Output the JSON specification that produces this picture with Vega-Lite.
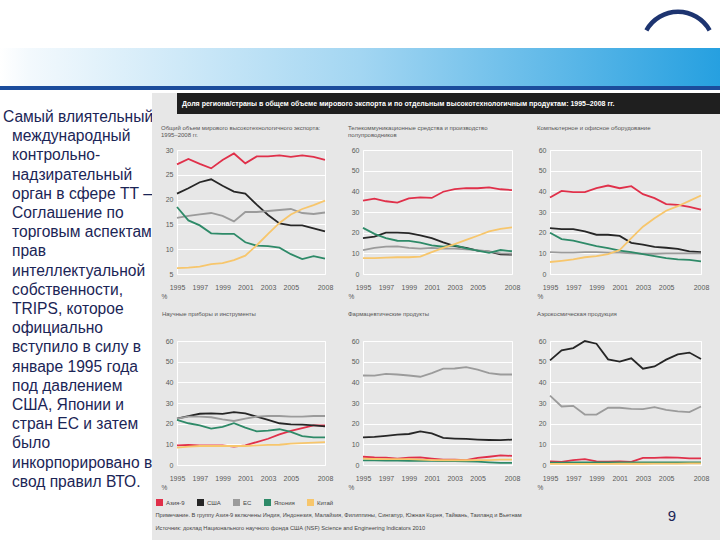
{
"$schema": "https://vega.github.io/schema/vega-lite/v6.json",
"padding": 0,
"background": "#e7e7e7",
"spacing": 0,
"title": {"text": "9", "orient": "bottom", "anchor": "end", "frame": "bounds", "offset": -31, "dx": -65, "fontSize": 15, "font": "Liberation Sans", "color": "#1b2556", "fontWeight": "normal"},
"datasets": {
"ex": [
{"p":"a","r":"Азия-9","y":1995,"v":27.1},{"p":"a","r":"Азия-9","y":1996,"v":28.2},{"p":"a","r":"Азия-9","y":1997,"v":27.2},{"p":"a","r":"Азия-9","y":1998,"v":26.3},{"p":"a","r":"Азия-9","y":1999,"v":28.0},{"p":"a","r":"Азия-9","y":2000,"v":29.3},{"p":"a","r":"Азия-9","y":2001,"v":27.3},{"p":"a","r":"Азия-9","y":2002,"v":28.7},{"p":"a","r":"Азия-9","y":2003,"v":28.7},{"p":"a","r":"Азия-9","y":2004,"v":28.9},{"p":"a","r":"Азия-9","y":2005,"v":28.6},{"p":"a","r":"Азия-9","y":2006,"v":28.9},{"p":"a","r":"Азия-9","y":2007,"v":28.6},{"p":"a","r":"Азия-9","y":2008,"v":28.0},
{"p":"a","r":"США","y":1995,"v":21.2},{"p":"a","r":"США","y":1996,"v":22.3},{"p":"a","r":"США","y":1997,"v":23.5},{"p":"a","r":"США","y":1998,"v":24.1},{"p":"a","r":"США","y":1999,"v":22.8},{"p":"a","r":"США","y":2000,"v":21.6},{"p":"a","r":"США","y":2001,"v":21.2},{"p":"a","r":"США","y":2002,"v":19.0},{"p":"a","r":"США","y":2003,"v":16.9},{"p":"a","r":"США","y":2004,"v":15.2},{"p":"a","r":"США","y":2005,"v":14.8},{"p":"a","r":"США","y":2006,"v":14.8},{"p":"a","r":"США","y":2007,"v":14.2},{"p":"a","r":"США","y":2008,"v":13.6},
{"p":"a","r":"ЕС","y":1995,"v":16.3},{"p":"a","r":"ЕС","y":1996,"v":16.7},{"p":"a","r":"ЕС","y":1997,"v":17.0},{"p":"a","r":"ЕС","y":1998,"v":17.3},{"p":"a","r":"ЕС","y":1999,"v":16.7},{"p":"a","r":"ЕС","y":2000,"v":15.6},{"p":"a","r":"ЕС","y":2001,"v":17.5},{"p":"a","r":"ЕС","y":2002,"v":17.5},{"p":"a","r":"ЕС","y":2003,"v":17.7},{"p":"a","r":"ЕС","y":2004,"v":17.9},{"p":"a","r":"ЕС","y":2005,"v":18.1},{"p":"a","r":"ЕС","y":2006,"v":17.3},{"p":"a","r":"ЕС","y":2007,"v":17.1},{"p":"a","r":"ЕС","y":2008,"v":17.4},
{"p":"a","r":"Япония","y":1995,"v":18.5},{"p":"a","r":"Япония","y":1996,"v":15.8},{"p":"a","r":"Япония","y":1997,"v":14.8},{"p":"a","r":"Япония","y":1998,"v":13.2},{"p":"a","r":"Япония","y":1999,"v":13.1},{"p":"a","r":"Япония","y":2000,"v":13.1},{"p":"a","r":"Япония","y":2001,"v":11.4},{"p":"a","r":"Япония","y":2002,"v":10.7},{"p":"a","r":"Япония","y":2003,"v":10.6},{"p":"a","r":"Япония","y":2004,"v":10.3},{"p":"a","r":"Япония","y":2005,"v":9.0},{"p":"a","r":"Япония","y":2006,"v":8.0},{"p":"a","r":"Япония","y":2007,"v":8.6},{"p":"a","r":"Япония","y":2008,"v":8.1},
{"p":"a","r":"Китай","y":1995,"v":6.2},{"p":"a","r":"Китай","y":1996,"v":6.3},{"p":"a","r":"Китай","y":1997,"v":6.5},{"p":"a","r":"Китай","y":1998,"v":7.0},{"p":"a","r":"Китай","y":1999,"v":7.2},{"p":"a","r":"Китай","y":2000,"v":7.8},{"p":"a","r":"Китай","y":2001,"v":8.7},{"p":"a","r":"Китай","y":2002,"v":10.8},{"p":"a","r":"Китай","y":2003,"v":13.1},{"p":"a","r":"Китай","y":2004,"v":15.3},{"p":"a","r":"Китай","y":2005,"v":17.0},{"p":"a","r":"Китай","y":2006,"v":18.1},{"p":"a","r":"Китай","y":2007,"v":18.9},{"p":"a","r":"Китай","y":2008,"v":19.8},
{"p":"b","r":"Азия-9","y":1995,"v":35.5},{"p":"b","r":"Азия-9","y":1996,"v":36.5},{"p":"b","r":"Азия-9","y":1997,"v":35.2},{"p":"b","r":"Азия-9","y":1998,"v":34.5},{"p":"b","r":"Азия-9","y":1999,"v":36.6},{"p":"b","r":"Азия-9","y":2000,"v":37.1},{"p":"b","r":"Азия-9","y":2001,"v":36.8},{"p":"b","r":"Азия-9","y":2002,"v":39.8},{"p":"b","r":"Азия-9","y":2003,"v":41.1},{"p":"b","r":"Азия-9","y":2004,"v":41.6},{"p":"b","r":"Азия-9","y":2005,"v":41.5},{"p":"b","r":"Азия-9","y":2006,"v":41.9},{"p":"b","r":"Азия-9","y":2007,"v":41.0},{"p":"b","r":"Азия-9","y":2008,"v":40.6},
{"p":"b","r":"США","y":1995,"v":17.4},{"p":"b","r":"США","y":1996,"v":18.1},{"p":"b","r":"США","y":1997,"v":20.0},{"p":"b","r":"США","y":1998,"v":20.0},{"p":"b","r":"США","y":1999,"v":19.8},{"p":"b","r":"США","y":2000,"v":18.7},{"p":"b","r":"США","y":2001,"v":17.4},{"p":"b","r":"США","y":2002,"v":15.3},{"p":"b","r":"США","y":2003,"v":13.5},{"p":"b","r":"США","y":2004,"v":12.6},{"p":"b","r":"США","y":2005,"v":11.3},{"p":"b","r":"США","y":2006,"v":10.8},{"p":"b","r":"США","y":2007,"v":9.5},{"p":"b","r":"США","y":2008,"v":9.4},
{"p":"b","r":"ЕС","y":1995,"v":11.6},{"p":"b","r":"ЕС","y":1996,"v":12.6},{"p":"b","r":"ЕС","y":1997,"v":13.2},{"p":"b","r":"ЕС","y":1998,"v":13.4},{"p":"b","r":"ЕС","y":1999,"v":12.6},{"p":"b","r":"ЕС","y":2000,"v":12.3},{"p":"b","r":"ЕС","y":2001,"v":12.6},{"p":"b","r":"ЕС","y":2002,"v":12.3},{"p":"b","r":"ЕС","y":2003,"v":12.3},{"p":"b","r":"ЕС","y":2004,"v":11.9},{"p":"b","r":"ЕС","y":2005,"v":11.6},{"p":"b","r":"ЕС","y":2006,"v":11.0},{"p":"b","r":"ЕС","y":2007,"v":10.0},{"p":"b","r":"ЕС","y":2008,"v":9.8},
{"p":"b","r":"Япония","y":1995,"v":22.3},{"p":"b","r":"Япония","y":1996,"v":19.4},{"p":"b","r":"Япония","y":1997,"v":17.4},{"p":"b","r":"Япония","y":1998,"v":16.1},{"p":"b","r":"Япония","y":1999,"v":16.0},{"p":"b","r":"Япония","y":2000,"v":15.2},{"p":"b","r":"Япония","y":2001,"v":13.9},{"p":"b","r":"Япония","y":2002,"v":13.2},{"p":"b","r":"Япония","y":2003,"v":13.9},{"p":"b","r":"Япония","y":2004,"v":12.4},{"p":"b","r":"Япония","y":2005,"v":11.3},{"p":"b","r":"Япония","y":2006,"v":10.2},{"p":"b","r":"Япония","y":2007,"v":11.6},{"p":"b","r":"Япония","y":2008,"v":11.0},
{"p":"b","r":"Китай","y":1995,"v":7.7},{"p":"b","r":"Китай","y":1996,"v":7.7},{"p":"b","r":"Китай","y":1997,"v":7.9},{"p":"b","r":"Китай","y":1998,"v":8.1},{"p":"b","r":"Китай","y":1999,"v":8.1},{"p":"b","r":"Китай","y":2000,"v":8.4},{"p":"b","r":"Китай","y":2001,"v":10.6},{"p":"b","r":"Китай","y":2002,"v":12.6},{"p":"b","r":"Китай","y":2003,"v":14.5},{"p":"b","r":"Китай","y":2004,"v":16.5},{"p":"b","r":"Китай","y":2005,"v":18.5},{"p":"b","r":"Китай","y":2006,"v":20.6},{"p":"b","r":"Китай","y":2007,"v":21.8},{"p":"b","r":"Китай","y":2008,"v":22.6},
{"p":"c","r":"Азия-9","y":1995,"v":37.0},{"p":"c","r":"Азия-9","y":1996,"v":40.2},{"p":"c","r":"Азия-9","y":1997,"v":39.6},{"p":"c","r":"Азия-9","y":1998,"v":39.6},{"p":"c","r":"Азия-9","y":1999,"v":41.5},{"p":"c","r":"Азия-9","y":2000,"v":42.8},{"p":"c","r":"Азия-9","y":2001,"v":41.5},{"p":"c","r":"Азия-9","y":2002,"v":42.5},{"p":"c","r":"Азия-9","y":2003,"v":38.6},{"p":"c","r":"Азия-9","y":2004,"v":36.7},{"p":"c","r":"Азия-9","y":2005,"v":33.8},{"p":"c","r":"Азия-9","y":2006,"v":33.4},{"p":"c","r":"Азия-9","y":2007,"v":32.5},{"p":"c","r":"Азия-9","y":2008,"v":31.1},
{"p":"c","r":"США","y":1995,"v":22.2},{"p":"c","r":"США","y":1996,"v":21.7},{"p":"c","r":"США","y":1997,"v":21.7},{"p":"c","r":"США","y":1998,"v":20.6},{"p":"c","r":"США","y":1999,"v":19.0},{"p":"c","r":"США","y":2000,"v":19.0},{"p":"c","r":"США","y":2001,"v":18.4},{"p":"c","r":"США","y":2002,"v":15.1},{"p":"c","r":"США","y":2003,"v":14.2},{"p":"c","r":"США","y":2004,"v":13.1},{"p":"c","r":"США","y":2005,"v":12.7},{"p":"c","r":"США","y":2006,"v":12.2},{"p":"c","r":"США","y":2007,"v":10.9},{"p":"c","r":"США","y":2008,"v":10.6},
{"p":"c","r":"ЕС","y":1995,"v":10.6},{"p":"c","r":"ЕС","y":1996,"v":10.3},{"p":"c","r":"ЕС","y":1997,"v":10.3},{"p":"c","r":"ЕС","y":1998,"v":10.6},{"p":"c","r":"ЕС","y":1999,"v":10.6},{"p":"c","r":"ЕС","y":2000,"v":10.3},{"p":"c","r":"ЕС","y":2001,"v":10.3},{"p":"c","r":"ЕС","y":2002,"v":10.0},{"p":"c","r":"ЕС","y":2003,"v":9.8},{"p":"c","r":"ЕС","y":2004,"v":9.8},{"p":"c","r":"ЕС","y":2005,"v":10.0},{"p":"c","r":"ЕС","y":2006,"v":10.0},{"p":"c","r":"ЕС","y":2007,"v":10.0},{"p":"c","r":"ЕС","y":2008,"v":10.0},
{"p":"c","r":"Япония","y":1995,"v":20.0},{"p":"c","r":"Япония","y":1996,"v":16.9},{"p":"c","r":"Япония","y":1997,"v":16.1},{"p":"c","r":"Япония","y":1998,"v":14.8},{"p":"c","r":"Япония","y":1999,"v":13.5},{"p":"c","r":"Япония","y":2000,"v":12.5},{"p":"c","r":"Япония","y":2001,"v":11.3},{"p":"c","r":"Япония","y":2002,"v":10.6},{"p":"c","r":"Япония","y":2003,"v":9.6},{"p":"c","r":"Япония","y":2004,"v":8.7},{"p":"c","r":"Япония","y":2005,"v":7.7},{"p":"c","r":"Япония","y":2006,"v":7.1},{"p":"c","r":"Япония","y":2007,"v":6.8},{"p":"c","r":"Япония","y":2008,"v":6.1},
{"p":"c","r":"Китай","y":1995,"v":5.8},{"p":"c","r":"Китай","y":1996,"v":6.4},{"p":"c","r":"Китай","y":1997,"v":7.1},{"p":"c","r":"Китай","y":1998,"v":8.1},{"p":"c","r":"Китай","y":1999,"v":8.7},{"p":"c","r":"Китай","y":2000,"v":9.6},{"p":"c","r":"Китай","y":2001,"v":11.6},{"p":"c","r":"Китай","y":2002,"v":17.4},{"p":"c","r":"Китай","y":2003,"v":22.9},{"p":"c","r":"Китай","y":2004,"v":27.0},{"p":"c","r":"Китай","y":2005,"v":30.6},{"p":"c","r":"Китай","y":2006,"v":32.8},{"p":"c","r":"Китай","y":2007,"v":35.4},{"p":"c","r":"Китай","y":2008,"v":38.0},
{"p":"d","r":"Азия-9","y":1995,"v":9.5},{"p":"d","r":"Азия-9","y":1996,"v":9.7},{"p":"d","r":"Азия-9","y":1997,"v":9.5},{"p":"d","r":"Азия-9","y":1998,"v":9.5},{"p":"d","r":"Азия-9","y":1999,"v":9.5},{"p":"d","r":"Азия-9","y":2000,"v":8.9},{"p":"d","r":"Азия-9","y":2001,"v":9.5},{"p":"d","r":"Азия-9","y":2002,"v":11.1},{"p":"d","r":"Азия-9","y":2003,"v":12.7},{"p":"d","r":"Азия-9","y":2004,"v":14.8},{"p":"d","r":"Азия-9","y":2005,"v":16.5},{"p":"d","r":"Азия-9","y":2006,"v":17.9},{"p":"d","r":"Азия-9","y":2007,"v":19.2},{"p":"d","r":"Азия-9","y":2008,"v":19.2},
{"p":"d","r":"США","y":1995,"v":22.4},{"p":"d","r":"США","y":1996,"v":23.7},{"p":"d","r":"США","y":1997,"v":24.8},{"p":"d","r":"США","y":1998,"v":25.0},{"p":"d","r":"США","y":1999,"v":24.7},{"p":"d","r":"США","y":2000,"v":25.6},{"p":"d","r":"США","y":2001,"v":25.0},{"p":"d","r":"США","y":2002,"v":23.4},{"p":"d","r":"США","y":2003,"v":21.8},{"p":"d","r":"США","y":2004,"v":20.2},{"p":"d","r":"США","y":2005,"v":19.7},{"p":"d","r":"США","y":2006,"v":19.5},{"p":"d","r":"США","y":2007,"v":19.2},{"p":"d","r":"США","y":2008,"v":18.7},
{"p":"d","r":"ЕС","y":1995,"v":22.4},{"p":"d","r":"ЕС","y":1996,"v":23.4},{"p":"d","r":"ЕС","y":1997,"v":23.4},{"p":"d","r":"ЕС","y":1998,"v":23.1},{"p":"d","r":"ЕС","y":1999,"v":22.1},{"p":"d","r":"ЕС","y":2000,"v":21.3},{"p":"d","r":"ЕС","y":2001,"v":22.4},{"p":"d","r":"ЕС","y":2002,"v":23.4},{"p":"d","r":"ЕС","y":2003,"v":23.7},{"p":"d","r":"ЕС","y":2004,"v":23.7},{"p":"d","r":"ЕС","y":2005,"v":23.4},{"p":"d","r":"ЕС","y":2006,"v":23.4},{"p":"d","r":"ЕС","y":2007,"v":23.7},{"p":"d","r":"ЕС","y":2008,"v":23.7},
{"p":"d","r":"Япония","y":1995,"v":21.8},{"p":"d","r":"Япония","y":1996,"v":20.2},{"p":"d","r":"Япония","y":1997,"v":19.2},{"p":"d","r":"Япония","y":1998,"v":17.6},{"p":"d","r":"Япония","y":1999,"v":18.5},{"p":"d","r":"Япония","y":2000,"v":20.2},{"p":"d","r":"Япония","y":2001,"v":18.1},{"p":"d","r":"Япония","y":2002,"v":16.3},{"p":"d","r":"Япония","y":2003,"v":16.6},{"p":"d","r":"Япония","y":2004,"v":17.3},{"p":"d","r":"Япония","y":2005,"v":16.0},{"p":"d","r":"Япония","y":2006,"v":14.0},{"p":"d","r":"Япония","y":2007,"v":13.4},{"p":"d","r":"Япония","y":2008,"v":13.4},
{"p":"d","r":"Китай","y":1995,"v":8.4},{"p":"d","r":"Китай","y":1996,"v":8.9},{"p":"d","r":"Китай","y":1997,"v":9.2},{"p":"d","r":"Китай","y":1998,"v":9.2},{"p":"d","r":"Китай","y":1999,"v":9.2},{"p":"d","r":"Китай","y":2000,"v":9.2},{"p":"d","r":"Китай","y":2001,"v":9.2},{"p":"d","r":"Китай","y":2002,"v":9.5},{"p":"d","r":"Китай","y":2003,"v":9.7},{"p":"d","r":"Китай","y":2004,"v":9.8},{"p":"d","r":"Китай","y":2005,"v":10.3},{"p":"d","r":"Китай","y":2006,"v":10.6},{"p":"d","r":"Китай","y":2007,"v":10.8},{"p":"d","r":"Китай","y":2008,"v":11.1},
{"p":"e","r":"Азия-9","y":1995,"v":4.0},{"p":"e","r":"Азия-9","y":1996,"v":3.7},{"p":"e","r":"Азия-9","y":1997,"v":3.6},{"p":"e","r":"Азия-9","y":1998,"v":3.1},{"p":"e","r":"Азия-9","y":1999,"v":3.6},{"p":"e","r":"Азия-9","y":2000,"v":3.7},{"p":"e","r":"Азия-9","y":2001,"v":3.1},{"p":"e","r":"Азия-9","y":2002,"v":2.6},{"p":"e","r":"Азия-9","y":2003,"v":2.6},{"p":"e","r":"Азия-9","y":2004,"v":2.4},{"p":"e","r":"Азия-9","y":2005,"v":3.4},{"p":"e","r":"Азия-9","y":2006,"v":4.0},{"p":"e","r":"Азия-9","y":2007,"v":4.7},{"p":"e","r":"Азия-9","y":2008,"v":4.4},
{"p":"e","r":"США","y":1995,"v":13.4},{"p":"e","r":"США","y":1996,"v":13.6},{"p":"e","r":"США","y":1997,"v":14.1},{"p":"e","r":"США","y":1998,"v":14.7},{"p":"e","r":"США","y":1999,"v":15.0},{"p":"e","r":"США","y":2000,"v":16.3},{"p":"e","r":"США","y":2001,"v":15.3},{"p":"e","r":"США","y":2002,"v":13.1},{"p":"e","r":"США","y":2003,"v":12.8},{"p":"e","r":"США","y":2004,"v":12.6},{"p":"e","r":"США","y":2005,"v":12.3},{"p":"e","r":"США","y":2006,"v":12.1},{"p":"e","r":"США","y":2007,"v":12.0},{"p":"e","r":"США","y":2008,"v":12.3},
{"p":"e","r":"ЕС","y":1995,"v":43.3},{"p":"e","r":"ЕС","y":1996,"v":43.2},{"p":"e","r":"ЕС","y":1997,"v":44.1},{"p":"e","r":"ЕС","y":1998,"v":43.8},{"p":"e","r":"ЕС","y":1999,"v":43.3},{"p":"e","r":"ЕС","y":2000,"v":42.7},{"p":"e","r":"ЕС","y":2001,"v":44.5},{"p":"e","r":"ЕС","y":2002,"v":46.6},{"p":"e","r":"ЕС","y":2003,"v":46.7},{"p":"e","r":"ЕС","y":2004,"v":47.4},{"p":"e","r":"ЕС","y":2005,"v":46.1},{"p":"e","r":"ЕС","y":2006,"v":44.5},{"p":"e","r":"ЕС","y":2007,"v":43.8},{"p":"e","r":"ЕС","y":2008,"v":43.8},
{"p":"e","r":"Япония","y":1995,"v":2.2},{"p":"e","r":"Япония","y":1996,"v":2.2},{"p":"e","r":"Япония","y":1997,"v":2.1},{"p":"e","r":"Япония","y":1998,"v":2.1},{"p":"e","r":"Япония","y":1999,"v":2.0},{"p":"e","r":"Япония","y":2000,"v":2.0},{"p":"e","r":"Япония","y":2001,"v":2.0},{"p":"e","r":"Япония","y":2002,"v":1.9},{"p":"e","r":"Япония","y":2003,"v":1.9},{"p":"e","r":"Япония","y":2004,"v":1.8},{"p":"e","r":"Япония","y":2005,"v":1.6},{"p":"e","r":"Япония","y":2006,"v":1.3},{"p":"e","r":"Япония","y":2007,"v":1.0},{"p":"e","r":"Япония","y":2008,"v":1.0},
{"p":"e","r":"Китай","y":1995,"v":3.1},{"p":"e","r":"Китай","y":1996,"v":2.9},{"p":"e","r":"Китай","y":1997,"v":2.8},{"p":"e","r":"Китай","y":1998,"v":2.8},{"p":"e","r":"Китай","y":1999,"v":2.8},{"p":"e","r":"Китай","y":2000,"v":2.6},{"p":"e","r":"Китай","y":2001,"v":2.4},{"p":"e","r":"Китай","y":2002,"v":2.3},{"p":"e","r":"Китай","y":2003,"v":2.3},{"p":"e","r":"Китай","y":2004,"v":2.3},{"p":"e","r":"Китай","y":2005,"v":2.4},{"p":"e","r":"Китай","y":2006,"v":2.4},{"p":"e","r":"Китай","y":2007,"v":2.6},{"p":"e","r":"Китай","y":2008,"v":2.6},
{"p":"f","r":"Азия-9","y":1995,"v":1.8},{"p":"f","r":"Азия-9","y":1996,"v":1.5},{"p":"f","r":"Азия-9","y":1997,"v":2.4},{"p":"f","r":"Азия-9","y":1998,"v":2.8},{"p":"f","r":"Азия-9","y":1999,"v":1.8},{"p":"f","r":"Азия-9","y":2000,"v":1.6},{"p":"f","r":"Азия-9","y":2001,"v":1.8},{"p":"f","r":"Азия-9","y":2002,"v":1.5},{"p":"f","r":"Азия-9","y":2003,"v":3.4},{"p":"f","r":"Азия-9","y":2004,"v":3.4},{"p":"f","r":"Азия-9","y":2005,"v":3.7},{"p":"f","r":"Азия-9","y":2006,"v":3.6},{"p":"f","r":"Азия-9","y":2007,"v":3.2},{"p":"f","r":"Азия-9","y":2008,"v":3.2},
{"p":"f","r":"США","y":1995,"v":50.6},{"p":"f","r":"США","y":1996,"v":55.5},{"p":"f","r":"США","y":1997,"v":56.6},{"p":"f","r":"США","y":1998,"v":60.0},{"p":"f","r":"США","y":1999,"v":58.7},{"p":"f","r":"США","y":2000,"v":51.1},{"p":"f","r":"США","y":2001,"v":50.0},{"p":"f","r":"США","y":2002,"v":51.6},{"p":"f","r":"США","y":2003,"v":46.6},{"p":"f","r":"США","y":2004,"v":47.7},{"p":"f","r":"США","y":2005,"v":51.0},{"p":"f","r":"США","y":2006,"v":53.5},{"p":"f","r":"США","y":2007,"v":54.4},{"p":"f","r":"США","y":2008,"v":51.3},
{"p":"f","r":"ЕС","y":1995,"v":33.6},{"p":"f","r":"ЕС","y":1996,"v":28.3},{"p":"f","r":"ЕС","y":1997,"v":28.6},{"p":"f","r":"ЕС","y":1998,"v":24.4},{"p":"f","r":"ЕС","y":1999,"v":24.4},{"p":"f","r":"ЕС","y":2000,"v":27.7},{"p":"f","r":"ЕС","y":2001,"v":27.7},{"p":"f","r":"ЕС","y":2002,"v":27.2},{"p":"f","r":"ЕС","y":2003,"v":27.0},{"p":"f","r":"ЕС","y":2004,"v":28.0},{"p":"f","r":"ЕС","y":2005,"v":26.7},{"p":"f","r":"ЕС","y":2006,"v":25.9},{"p":"f","r":"ЕС","y":2007,"v":25.6},{"p":"f","r":"ЕС","y":2008,"v":28.3},
{"p":"f","r":"Япония","y":1995,"v":1.1},{"p":"f","r":"Япония","y":1996,"v":1.1},{"p":"f","r":"Япония","y":1997,"v":1.2},{"p":"f","r":"Япония","y":1998,"v":1.2},{"p":"f","r":"Япония","y":1999,"v":1.2},{"p":"f","r":"Япония","y":2000,"v":1.2},{"p":"f","r":"Япония","y":2001,"v":1.2},{"p":"f","r":"Япония","y":2002,"v":1.2},{"p":"f","r":"Япония","y":2003,"v":1.3},{"p":"f","r":"Япония","y":2004,"v":1.3},{"p":"f","r":"Япония","y":2005,"v":1.3},{"p":"f","r":"Япония","y":2006,"v":1.3},{"p":"f","r":"Япония","y":2007,"v":1.3},{"p":"f","r":"Япония","y":2008,"v":1.3},
{"p":"f","r":"Китай","y":1995,"v":0.5},{"p":"f","r":"Китай","y":1996,"v":0.5},{"p":"f","r":"Китай","y":1997,"v":0.5},{"p":"f","r":"Китай","y":1998,"v":0.5},{"p":"f","r":"Китай","y":1999,"v":0.5},{"p":"f","r":"Китай","y":2000,"v":0.5},{"p":"f","r":"Китай","y":2001,"v":0.6},{"p":"f","r":"Китай","y":2002,"v":0.6},{"p":"f","r":"Китай","y":2003,"v":0.6},{"p":"f","r":"Китай","y":2004,"v":0.7},{"p":"f","r":"Китай","y":2005,"v":0.7},{"p":"f","r":"Китай","y":2006,"v":0.7},{"p":"f","r":"Китай","y":2007,"v":0.8},{"p":"f","r":"Китай","y":2008,"v":0.8}
],
"para": [
{"line":0,"t":"Самый влиятельный"},{"line":1,"t":"международный"},{"line":2,"t":"контрольно-"},{"line":3,"t":"надзирательный"},{"line":4,"t":"орган в сфере ТТ —"},{"line":5,"t":"Соглашение по"},{"line":6,"t":"торговым аспектам"},{"line":7,"t":"прав"},{"line":8,"t":"интеллектуальной"},{"line":9,"t":"собственности,"},{"line":10,"t":"TRIPS, которое"},{"line":11,"t":"официально"},{"line":12,"t":"вступило в силу в"},{"line":13,"t":"январе 1995 года"},{"line":14,"t":"под давлением"},{"line":15,"t":"США, Японии и"},{"line":16,"t":"стран ЕС и затем"},{"line":17,"t":"было"},{"line":18,"t":"инкорпорировано в"},{"line":19,"t":"свод правил ВТО."}
]
},
"vconcat": [
{"hconcat": [
 {"width": 636, "height": 48, "view": {"fill": "white", "stroke": null}, "data": {"values": [{}]}, "mark": {"type": "rect", "color": "white"}},
 {"width": 84, "height": 48, "view": {"fill": "white", "stroke": null}, "data": {"values": [{}]},
  "mark": {"type": "arc", "theta": -1.06, "theta2": 1.06, "radius": 38.5, "radius2": 34, "color": "#1d3470"},
  "encoding": {"y": {"datum": 0, "type": "quantitative", "scale": {"domain": [0, 1]}, "axis": null}}}
], "spacing": 0},
{"width": 720, "height": 38, "view": {"fill": "#8ecdf0", "stroke": null}, "data": {"values": [{}]}, "mark": {"type": "rect", "color": {"gradient": "linear", "x1": 0, "y1": 0, "x2": 1, "y2": 0, "stops": [{"offset": 0, "color": "#ffffff"}, {"offset": 0.04, "color": "#f3f9fd"}, {"offset": 0.5, "color": "#a3d6f2"}, {"offset": 1, "color": "#26a0e0"}]}}},
{"width": 720, "height": 4, "view": {"fill": "#1b4c9c", "stroke": null}, "data": {"values": [{}]}, "mark": {"type": "rect", "color": "#1b4c9c"}},
{"width": 720, "height": 3, "view": {"fill": "white", "stroke": null}, "data": {"values": [{}]}, "mark": {"type": "rect", "color": "white"}},
{"hconcat": [
 {"width": 152, "height": 447, "view": {"fill": "white", "stroke": null},
  "data": {"name": "para"},
  "encoding": {
   "y": {"field": "line", "type": "quantitative", "scale": {"domain": [-1.25, 22.03], "reverse": true, "nice": false, "zero": false}, "axis": null},
   "x": {"datum": 0, "type": "quantitative", "scale": {"domain": [0, 1]}, "axis": null},
   "text": {"field": "t"}
  },
  "layer": [
   {"transform": [{"filter": "datum.line == 0"}], "mark": {"type": "text", "align": "left", "baseline": "middle", "font": "Liberation Sans", "fontSize": 15.6, "color": "#1b2556", "dx": 3, "clip": true}},
   {"transform": [{"filter": "datum.line > 0"}], "mark": {"type": "text", "align": "left", "baseline": "middle", "font": "Liberation Sans", "fontSize": 15.6, "color": "#1b2556", "dx": 12, "clip": true}}
  ]
 },
 {"concat": [
  {"width": 564, "height": 21, "view": {"fill": "#1f1f1f", "stroke": null},
   "data": {"values": [{"t": "Доля региона/страны в общем объеме мирового экспорта и по отдельным высокотехнологичным продуктам: 1995–2008 гг."}]},
   "mark": {"type": "text", "align": "left", "baseline": "middle", "color": "white", "fontWeight": "bold", "fontSize": 7, "dx": 5},
   "encoding": {"text": {"field": "t"}, "x": {"datum": 0, "type": "quantitative", "scale": {"domain": [0, 1]}, "axis": null}}
  },
  {"hconcat": [
   {"width": 148, "height": 124, "data": {"name": "ex"}, "transform": [{"filter": "datum.p == 'a'"}],
    "title": {"text": ["Общий объем мирового высокотехнологичного экспорта:", "1995–2008 гг."], "dx": -16},
    "mark": {"type": "line", "strokeWidth": 1.8},
    "encoding": {
     "x": {"field": "y", "type": "quantitative", "scale": {"domain": [1995, 2008]}, "axis": {"values": [1995, 1997, 1999, 2001, 2003, 2005, 2008], "format": "d", "title": "%", "titleX": -16}},
     "y": {"field": "v", "type": "quantitative", "scale": {"domain": [5, 30], "nice": false, "zero": false}, "axis": {"values": [5, 10, 15, 20, 25, 30], "title": null, "minExtent": 24}},
     "color": {"field": "r", "type": "nominal", "scale": {"domain": ["Азия-9", "США", "ЕС", "Япония", "Китай"], "range": ["#e0304a", "#262626", "#9b9b9b", "#2e8a68", "#f7c66c"]}, "legend": {"encode": {"symbols": {"update": {"strokeJoin": {"value": "miter"}, "strokeCap": {"value": "butt"}}}}}}
    }
   },
   {"width": 149, "height": 124, "data": {"name": "ex"}, "transform": [{"filter": "datum.p == 'b'"}],
    "title": {"text": ["Телекоммуникационные средства и производство", "полупроводников"], "dx": -15},
    "mark": {"type": "line", "strokeWidth": 1.8},
    "encoding": {
     "x": {"field": "y", "type": "quantitative", "scale": {"domain": [1995, 2008]}, "axis": {"values": [1995, 1997, 1999, 2001, 2003, 2005, 2008], "format": "d", "title": "%", "titleX": -15}},
     "y": {"field": "v", "type": "quantitative", "scale": {"domain": [0, 60], "nice": false}, "axis": {"values": [0, 10, 20, 30, 40, 50, 60], "title": null}},
     "color": {"field": "r", "type": "nominal", "scale": {"domain": ["Азия-9", "США", "ЕС", "Япония", "Китай"], "range": ["#e0304a", "#262626", "#9b9b9b", "#2e8a68", "#f7c66c"]}, "legend": {"encode": {"symbols": {"update": {"strokeJoin": {"value": "miter"}, "strokeCap": {"value": "butt"}}}}}}
    }
   },
   {"width": 151, "height": 124, "data": {"name": "ex"}, "transform": [{"filter": "datum.p == 'c'"}],
    "title": {"text": ["Компьютерное и офисное оборудование", " "], "dx": -13},
    "mark": {"type": "line", "strokeWidth": 1.8},
    "encoding": {
     "x": {"field": "y", "type": "quantitative", "scale": {"domain": [1995, 2008]}, "axis": {"values": [1995, 1997, 1999, 2001, 2003, 2005, 2008], "format": "d", "title": "%", "titleX": -13}},
     "y": {"field": "v", "type": "quantitative", "scale": {"domain": [0, 60], "nice": false}, "axis": {"values": [0, 10, 20, 30, 40, 50, 60], "title": null}},
     "color": {"field": "r", "type": "nominal", "scale": {"domain": ["Азия-9", "США", "ЕС", "Япония", "Китай"], "range": ["#e0304a", "#262626", "#9b9b9b", "#2e8a68", "#f7c66c"]}, "legend": {"encode": {"symbols": {"update": {"strokeJoin": {"value": "miter"}, "strokeCap": {"value": "butt"}}}}}}
    }
   }
  ], "spacing": 38, "bounds": "flush"},
  {"hconcat": [
   {"width": 148, "height": 124, "data": {"name": "ex"}, "transform": [{"filter": "datum.p == 'd'"}],
    "title": {"text": "Научные приборы и инструменты", "dx": -15, "offset": 20},
    "mark": {"type": "line", "strokeWidth": 1.8},
    "encoding": {
     "x": {"field": "y", "type": "quantitative", "scale": {"domain": [1995, 2008]}, "axis": {"values": [1995, 1997, 1999, 2001, 2003, 2005, 2008], "format": "d", "title": "%", "titleX": -16}},
     "y": {"field": "v", "type": "quantitative", "scale": {"domain": [0, 60], "nice": false}, "axis": {"values": [0, 10, 20, 30, 40, 50, 60], "title": null, "minExtent": 24}},
     "color": {"field": "r", "type": "nominal", "scale": {"domain": ["Азия-9", "США", "ЕС", "Япония", "Китай"], "range": ["#e0304a", "#262626", "#9b9b9b", "#2e8a68", "#f7c66c"]}, "legend": {"encode": {"symbols": {"update": {"strokeJoin": {"value": "miter"}, "strokeCap": {"value": "butt"}}}}}}
    }
   },
   {"width": 149, "height": 124, "data": {"name": "ex"}, "transform": [{"filter": "datum.p == 'e'"}],
    "title": {"text": "Фармацевтические продукты", "dx": -15, "offset": 20},
    "mark": {"type": "line", "strokeWidth": 1.8},
    "encoding": {
     "x": {"field": "y", "type": "quantitative", "scale": {"domain": [1995, 2008]}, "axis": {"values": [1995, 1997, 1999, 2001, 2003, 2005, 2008], "format": "d", "title": "%", "titleX": -15}},
     "y": {"field": "v", "type": "quantitative", "scale": {"domain": [0, 60], "nice": false}, "axis": {"values": [0, 10, 20, 30, 40, 50, 60], "title": null}},
     "color": {"field": "r", "type": "nominal", "scale": {"domain": ["Азия-9", "США", "ЕС", "Япония", "Китай"], "range": ["#e0304a", "#262626", "#9b9b9b", "#2e8a68", "#f7c66c"]}, "legend": {"encode": {"symbols": {"update": {"strokeJoin": {"value": "miter"}, "strokeCap": {"value": "butt"}}}}}}
    }
   },
   {"width": 151, "height": 124, "data": {"name": "ex"}, "transform": [{"filter": "datum.p == 'f'"}],
    "title": {"text": "Аэрокосмическая продукция", "dx": -13, "offset": 20},
    "mark": {"type": "line", "strokeWidth": 1.8},
    "encoding": {
     "x": {"field": "y", "type": "quantitative", "scale": {"domain": [1995, 2008]}, "axis": {"values": [1995, 1997, 1999, 2001, 2003, 2005, 2008], "format": "d", "title": "%", "titleX": -13}},
     "y": {"field": "v", "type": "quantitative", "scale": {"domain": [0, 60], "nice": false}, "axis": {"values": [0, 10, 20, 30, 40, 50, 60], "title": null}},
     "color": {"field": "r", "type": "nominal", "scale": {"domain": ["Азия-9", "США", "ЕС", "Япония", "Китай"], "range": ["#e0304a", "#262626", "#9b9b9b", "#2e8a68", "#f7c66c"]}, "legend": {"encode": {"symbols": {"update": {"strokeJoin": {"value": "miter"}, "strokeCap": {"value": "butt"}}}}}}
    }
   }
  ], "spacing": 38, "bounds": "flush"}
 ], "columns": 1, "align": "none", "spacing": 10,
 "title": {"text": "Примечание. В группу Азия-9 включены Индия, Индонезия, Малайзия, Филиппины, Сингапур, Южная Корея, Тайвань, Таиланд и Вьетнам", "subtitle": "Источник: доклад Национального научного фонда США (NSF) Science and Engineering Indicators 2010", "orient": "bottom", "anchor": "start", "frame": "bounds", "offset": 21, "dx": 3, "fontSize": 5.7, "subtitleFontSize": 5.7, "subtitlePadding": 7, "color": "#444", "subtitleColor": "#444", "subtitleFont": "Liberation Sans"}
 }
 ], "spacing": 0}
],
"config": {
 "font": "Liberation Sans",
 "view": {"stroke": "white", "strokeWidth": 1},
 "axis": {"labelFont": "Liberation Sans", "labelFontSize": 7, "labelColor": "#5a5a5a", "labelOverlap": false, "labelFlush": false, "domain": false, "ticks": false, "gridColor": "white", "gridWidth": 1, "titleFont": "Liberation Sans", "titleFontSize": 6.5, "titleFontWeight": "normal", "titleColor": "#555555"},
 "axisX": {"grid": false, "labelPadding": 9, "titleAlign": "left", "titlePadding": 3},
 "axisY": {"labelPadding": 4},
 "title": {"font": "Liberation Sans", "fontSize": 6, "fontWeight": "normal", "color": "#555555", "anchor": "start", "frame": "group", "lineHeight": 7, "offset": 8},
 "legend": {"orient": "none", "legendX": 156, "legendY": 499, "direction": "horizontal", "title": null, "symbolType": "square", "symbolSize": 9, "symbolStrokeWidth": 4, "labelFontSize": 6, "labelFont": "Liberation Sans", "labelColor": "#444444", "columnPadding": 6, "labelOffset": 3}
}
}
